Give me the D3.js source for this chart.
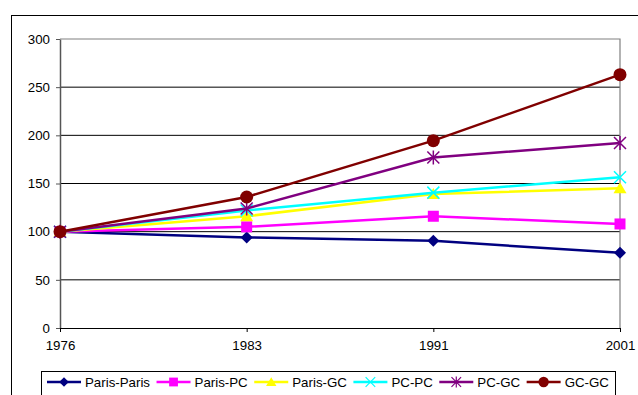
<!DOCTYPE html>
<html>
<head>
<meta charset="utf-8">
<script src="https://cdn.jsdelivr.net/npm/d3@7"></script>
<style>
  body { margin: 0; background: #fff; }
  svg { display: block; font-family: "Liberation Sans", Arial, sans-serif; }
</style>
</head>
<body>
<svg id="drawing_region"></svg>
<script>

// data
var years = ['1976', '1983', '1991', '2001'];
var yTicks = [0, 50, 100, 150, 200, 250, 300];
var seriesNames = ['Paris-Paris', 'Paris-PC', 'Paris-GC', 'PC-PC', 'PC-GC', 'GC-GC'];
var parisParis = [100, 94, 90.5, 78];
var parisPC    = [100, 105, 116, 108];
var parisGC    = [100, 116, 139, 145];
var pcPC       = [100, 122, 140.5, 156.5];
var pcGC       = [100, 124, 177, 192];
var gcGC       = [100, 136, 194.5, 263];

var colors = ['#000080', '#ff00ff', '#ffff00', '#00ffff', '#800080', '#800000'];
var markers = ['diamond', 'square', 'triangle', 'cross', 'star', 'circle'];

var series = [parisParis, parisPC, parisGC, pcPC, pcGC, gcGC].map(function(v, i) {
    return { name: seriesNames[i], values: v, color: colors[i], marker: markers[i] };
});

var config = {
    width: 638,
    height: 395,
    left: 60, right: 620, top: 39, bottom: 328
};

var svg = d3.select('#drawing_region')
    .attr('width', config.width)
    .attr('height', config.height);

// outer chart frame (runs off the page right and bottom)
svg.append('rect')
    .attr('x', 11.5).attr('y', 15.5)
    .attr('width', 700).attr('height', 500)
    .attr('fill', 'none').attr('stroke', '#000').attr('stroke-width', 1);

var xscale = d3.scalePoint()
    .domain(years)
    .range([config.left, config.right]);

var yscale = d3.scaleLinear()
    .domain([0, 300])
    .range([config.bottom, config.top]);

// gridlines
svg.append('g').selectAll('line')
    .data(yTicks.filter(function(d) { return d > 0 && d < 300; }))
    .enter().append('line')
    .attr('x1', config.left).attr('x2', config.right)
    .attr('y1', d => yscale(d)).attr('y2', d => yscale(d))
    .attr('stroke', '#000').attr('stroke-width', 1);

// plot area border top/right
svg.append('path')
    .attr('d', `M${config.left},${yscale(300)}H${config.right}V${config.bottom}`)
    .attr('fill', 'none').attr('stroke', '#808080').attr('stroke-width', 1.2);

// y axis
var yaxis = d3.axisLeft(yscale).tickValues(yTicks).tickSize(4).tickPadding(6).tickSizeOuter(0);
var yg = svg.append('g')
    .attr('transform', `translate(${config.left},0)`)
    .call(yaxis);
yg.select('.domain').attr('stroke', '#555').attr('stroke-width', 1.5);
yg.selectAll('.tick line').attr('stroke', '#555');
yg.selectAll('text').attr('font-size', 13.3).attr('fill', '#000')
    .attr('font-family', '"Liberation Sans", Arial, sans-serif');

// x axis
var xaxis = d3.axisBottom(xscale).tickSize(4).tickPadding(9).tickSizeOuter(0);
var xg = svg.append('g')
    .attr('transform', `translate(0,${config.bottom})`)
    .call(xaxis);
xg.select('.domain').attr('stroke', '#000').attr('stroke-width', 1.2);
xg.selectAll('.tick line').attr('stroke', '#000');
xg.selectAll('text').attr('font-size', 13.3).attr('fill', '#000')
    .attr('font-family', '"Liberation Sans", Arial, sans-serif');

function drawMarker(g, type, color) {
    if (type === 'diamond') {
        g.append('path').attr('d', 'M0,-6L6,0L0,6L-6,0Z').attr('fill', color);
    } else if (type === 'square') {
        g.append('rect').attr('x', -5.5).attr('y', -5.5).attr('width', 11).attr('height', 11).attr('fill', color);
    } else if (type === 'triangle') {
        g.append('path').attr('d', 'M0,-6L6.5,5L-6.5,5Z').attr('fill', color);
    } else if (type === 'cross') {
        g.append('path').attr('d', 'M-6,-6L6,6M-6,6L6,-6').attr('stroke', color).attr('stroke-width', 1.5);
    } else if (type === 'star') {
        g.append('path').attr('d', 'M-6,-6L6,6M-6,6L6,-6M0,-7V7').attr('stroke', color).attr('stroke-width', 1.5);
    } else if (type === 'circle') {
        g.append('circle').attr('r', 6.5).attr('fill', color);
    }
}

var line = d3.line()
    .x((d, i) => xscale(years[i]))
    .y(d => yscale(d));

series.forEach(function(s) {
    var g = svg.append('g');
    g.append('path')
        .attr('d', line(s.values))
        .attr('fill', 'none')
        .attr('stroke', s.color)
        .attr('stroke-width', 2.5);
    s.values.forEach(function(v, i) {
        var mg = g.append('g').attr('transform', `translate(${xscale(years[i])},${yscale(v)})`);
        drawMarker(mg, s.marker, s.color);
    });
});

// legend
var legend = svg.append('g');
legend.append('rect')
    .attr('x', 41.5).attr('y', 371.5)
    .attr('width', 574).attr('height', 40)
    .attr('fill', '#fff').attr('stroke', '#000').attr('stroke-width', 1);

var lx = 47;
var ly = 382;
series.forEach(function(s) {
    var g = legend.append('g');
    g.append('line')
        .attr('x1', lx).attr('x2', lx + 34)
        .attr('y1', ly).attr('y2', ly)
        .attr('stroke', s.color).attr('stroke-width', 2.5);
    var mg = g.append('g').attr('transform', `translate(${lx + 17},${ly}) scale(0.8)`);
    drawMarker(mg, s.marker, s.color);
    var t = g.append('text')
        .attr('x', lx + 38).attr('y', ly + 4.5)
        .attr('font-size', 13.3)
        .text(s.name);
    lx = lx + 38 + t.node().getComputedTextLength() + 6.5;
});

</script>
</body>
</html>
